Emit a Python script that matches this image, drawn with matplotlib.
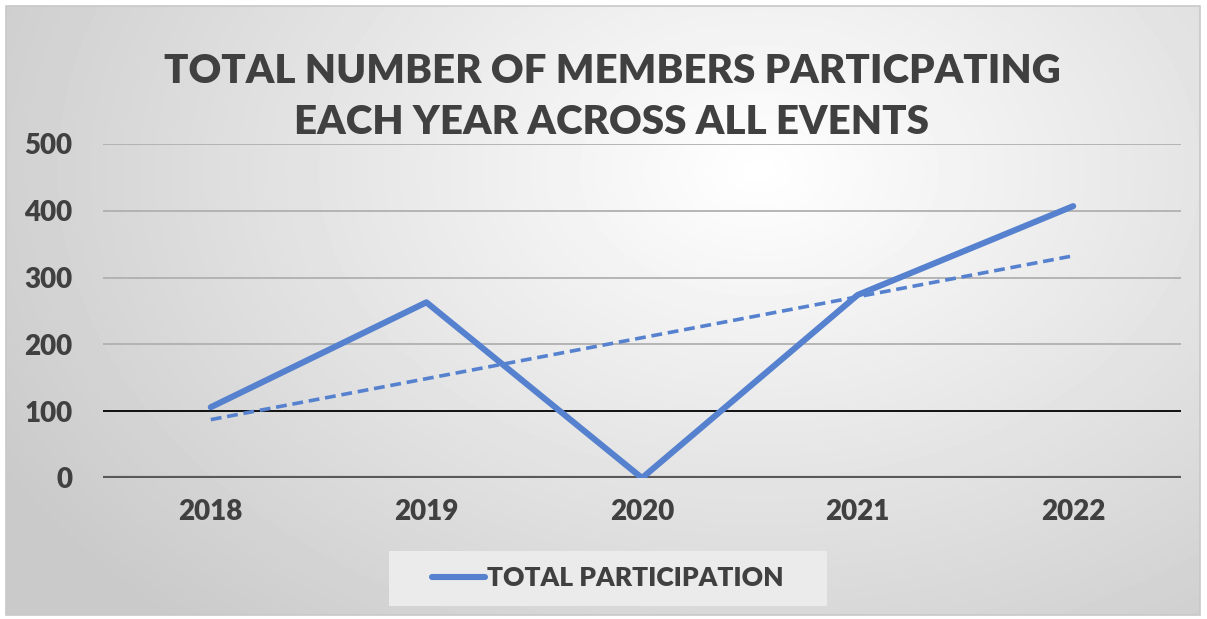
import numpy as np
from matplotlib import pyplot as plt
from matplotlib.lines import Line2D
from matplotlib.patches import Rectangle

years = ['2018', '2019', '2020', '2021', '2022']
participation = [106, 263, 0, 274, 407]
y_ticks = [0, 100, 200, 300, 400, 500]
title = 'TOTAL NUMBER OF MEMBERS PARTICPATING\nEACH YEAR ACROSS ALL EVENTS'
legend_label = 'TOTAL PARTICIPATION'

plt.rcParams['font.family'] = ['Lato', 'DejaVu Sans']
text_col = '#404040'
line_col = '#5581CF'
weight = 'heavy'

W, H = 1207, 619
f = plt.figure(figsize=(W / 100, H / 100), dpi=100)

# background with radial gradient inside a thin border
bg = f.add_axes([0, 0, 1, 1], zorder=-1)
bg.set_xlim(0, W)
bg.set_ylim(H, 0)
bg.axis('off')
gx, gy = np.meshgrid(np.linspace(6, 1200, 300), np.linspace(6, 615, 160))
r = np.sqrt(((gx - 760) / 800) ** 2 + ((gy - 170) / 560) ** 2)
shade = 1.0 - 0.21 * np.clip(r, 0, 1.1) / 1.1
bg.imshow(shade, cmap='gray', vmin=0, vmax=1, extent=(6, 1200, 615, 6), aspect='auto', interpolation='bilinear')
bg.add_patch(Rectangle((6, 6), 1194, 609, fill=False, edgecolor='#c8c8c8', lw=1.2))

ax = f.add_axes([103 / W, 1 - 478 / H, (1181 - 103) / W, (478 - 144) / H])
ax.patch.set_visible(False)
x = np.arange(len(years))

ax.plot(x, participation, color=line_col, lw=4.4, solid_capstyle='round', zorder=4)

# linear trend line of the series
k, b = np.polyfit(x, participation, 1)
ax.plot(x, k * x + b, color=line_col, lw=2.6, ls=(0, (3, 1.6)), zorder=3)

ax.set_xlim(-0.5, len(years) - 0.5)
ax.set_ylim(0, 500)
ax.set_yticks(y_ticks)
ax.set_xticks(x, years)
ax.tick_params(length=0, labelsize=20, labelcolor=text_col, pad=15)
ax.tick_params(axis='y', pad=22)
for lab in ax.get_xticklabels() + ax.get_yticklabels():
    lab.set_fontweight(weight)

for v in y_ticks[1:]:
    c = 'black' if v == 100 else '#b0b0b0'
    ax.axhline(v, color=c, lw=1.3, zorder=1)
ax.axhline(0, color='#595959', lw=3, zorder=2)
for s in ax.spines.values():
    s.set_visible(False)

f.text(612 / W, 1 - 97 / H, title, ha='center', va='center', fontsize=29, fontweight=weight,
       color=text_col, linespacing=1.45)

bg.add_patch(Rectangle((389, 551), 438, 55, facecolor='#ebebeb', edgecolor='none'))
handle = Line2D([], [], color=line_col, lw=4.4, solid_capstyle='round')
leg = f.legend([handle], [legend_label], loc='center', bbox_to_anchor=(608 / W, 1 - 578 / H),
               frameon=False, handlelength=2.0, handletextpad=0.1,
               prop={'size': 19, 'weight': weight})
for t in leg.get_texts():
    t.set_color(text_col)

plt.savefig('out.png', dpi=100)
